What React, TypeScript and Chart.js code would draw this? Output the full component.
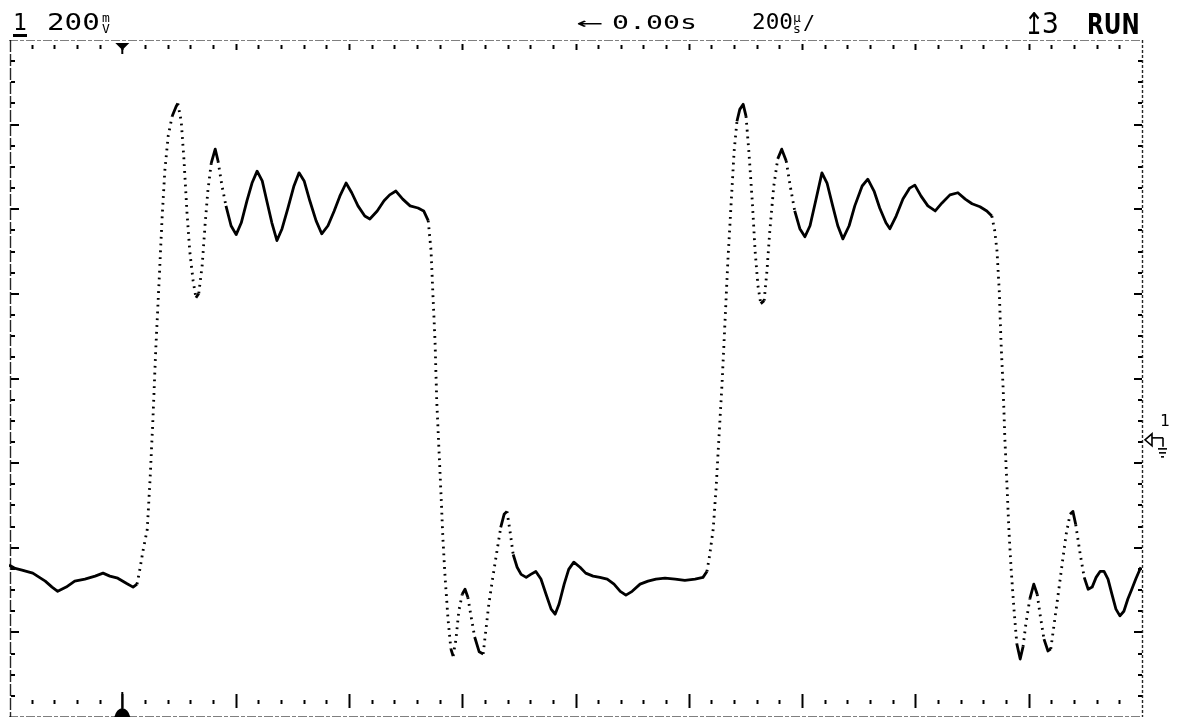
import { useEffect, useRef } from "react";
import { Chart, registerables } from "chart.js";

Chart.register(...registerables);

// ---- Scope settings ----
const X_MIN_US = 0;
const X_MAX_US = 2000; // 10 div x 200 us/div
const Y_MAX_MV = 945; // top of graticule (8 div x 200 mV/div)
const Y_MIN_MV = -655;
const H_MINOR_US = 40;
const H_MAJOR_US = 200;
const V_MINOR_MV = 50;
const V_MAJOR_MV = 200;
const TRIGGER_US = 200;
const GROUND_MV = 0;

// ---- Captured trace (time in microseconds, voltage in millivolts) ----
const timeUs = [
  0, 11, 23, 42, 64, 76, 86, 101, 116, 134,
  152, 166, 178, 192, 207, 219, 226, 231, 237, 244,
  249, 254, 259, 265, 270, 275, 281, 288, 295, 298,
  304, 309, 314, 319, 325, 330, 335, 341, 346, 351,
  357, 364, 369, 376, 383, 392, 401, 410, 420, 429,
  438, 447, 455, 464, 473, 482, 492, 503, 512, 521,
  531, 542, 552, 563, 574, 584, 595, 605, 616, 628,
  637, 650, 662, 672, 683, 695, 708, 722, 732, 740,
  745, 748, 752, 755, 759, 763, 766, 770, 775, 780,
  784, 789, 794, 800, 805, 810, 815, 822, 830, 837,
  842, 847, 854, 861, 868, 874, 879, 884, 890, 897,
  904, 913, 921, 930, 939, 948, 957, 964, 971, 980,
  988, 997, 1008, 1018, 1031, 1043, 1056, 1068, 1079, 1089,
  1100, 1114, 1128, 1142, 1158, 1176, 1193, 1211, 1225, 1232,
  1237, 1243, 1248, 1253, 1259, 1264, 1269, 1275, 1280, 1285,
  1290, 1296, 1301, 1306, 1312, 1317, 1322, 1327, 1333, 1338,
  1343, 1350, 1357, 1364, 1372, 1379, 1387, 1396, 1405, 1414,
  1424, 1435, 1444, 1454, 1463, 1472, 1483, 1493, 1506, 1516,
  1527, 1537, 1548, 1555, 1566, 1578, 1590, 1599, 1610, 1622,
  1635, 1647, 1661, 1675, 1688, 1700, 1714, 1726, 1735, 1740,
  1744, 1748, 1751, 1755, 1758, 1762, 1765, 1769, 1774, 1779,
  1785, 1790, 1795, 1802, 1809, 1815, 1820, 1827, 1834, 1839,
  1845, 1852, 1859, 1866, 1873, 1878, 1883, 1891, 1898, 1905,
  1912, 1919, 1926, 1933, 1940, 1947, 1954, 1961, 1968, 1975,
  1982, 1989, 1998,
];

const voltsMv = [
  -296, -304, -308, -315, -334, -348, -358, -348, -334, -329,
  -322, -315, -322, -327, -339, -348, -341, -306, -259, -212,
  -94, 47, 212, 376, 518, 635, 718, 765, 788, 795,
  753, 659, 541, 447, 376, 336, 346, 412, 506, 588,
  654, 687, 659, 600, 553, 506, 485, 513, 565, 607,
  635, 612, 565, 513, 471, 499, 546, 600, 631, 612,
  565, 518, 487, 506, 541, 576, 607, 584, 553, 529,
  522, 541, 565, 579, 588, 569, 553, 548, 541, 518,
  447, 353, 235, 94, -24, -141, -235, -329, -424, -494,
  -511, -471, -405, -365, -353, -372, -412, -466, -501, -506,
  -447, -388, -325, -266, -207, -176, -169, -212, -271, -301,
  -318, -325, -318, -311, -329, -365, -400, -412, -388, -341,
  -306, -289, -301, -315, -322, -325, -329, -341, -358, -367,
  -358, -341, -334, -329, -327, -329, -332, -329, -325, -311,
  -271, -212, -118, 0, 141, 282, 424, 565, 682, 753,
  781, 793, 765, 682, 565, 447, 365, 322, 329, 400,
  494, 600, 664, 687, 659, 600, 541, 499, 480, 506,
  565, 631, 607, 553, 506, 475, 506, 553, 600, 616,
  588, 548, 513, 499, 529, 569, 595, 602, 576, 553,
  541, 560, 579, 584, 569, 558, 551, 541, 529, 494,
  447, 353, 235, 118, 0, -118, -212, -306, -400, -482,
  -518, -489, -435, -376, -341, -365, -412, -471, -499, -494,
  -435, -365, -294, -224, -176, -169, -200, -271, -325, -353,
  -348, -325, -311, -311, -329, -365, -400, -416, -405, -376,
  -353, -329, -301,
];

// ---- Header readouts ----
const CHANNEL_LABEL = "1";
const VOLTS_DIV = "200";
const VOLTS_UNIT = ["m", "V"];
const DELAY_ARROW = "←";
const DELAY_TEXT = "0.00s";
const TIME_DIV = "200";
const TIME_UNIT = ["µ", "s"];
const TRIG_SLOPE = "↥";
const TRIG_SOURCE = "3";
const RUN_STATE = "RUN";
const GROUND_LABEL = "1";

const scopePlugin = {
  id: "scopeGraticule",
  beforeDatasetsDraw(chart: any) {
    const { ctx, chartArea: a, scales } = chart;
    const xs = scales.x;
    const ys = scales.y;
    const seg = (x1: number, y1: number, x2: number, y2: number) => {
      ctx.beginPath();
      ctx.moveTo(x1, y1);
      ctx.lineTo(x2, y2);
      ctx.stroke();
    };
    ctx.save();
    // frame
    ctx.lineWidth = 1;
    ctx.strokeStyle = "rgba(0,0,0,0.5)";
    ctx.setLineDash([9, 2, 4, 2]);
    seg(a.left, a.top + 0.5, a.right, a.top + 0.5);
    seg(a.left, a.bottom - 0.5, a.right, a.bottom - 0.5);
    ctx.strokeStyle = "rgba(0,0,0,0.85)";
    ctx.lineWidth = 1.4;
    ctx.setLineDash([12, 2]);
    seg(a.left + 1.5, a.top, a.left + 1.5, a.bottom);
    ctx.setLineDash([3, 2]);
    seg(a.right + 0.5, a.top, a.right + 0.5, a.bottom);
    ctx.setLineDash([]);

    // vertical-axis ticks (left and right edges)
    ctx.strokeStyle = "#000";
    ctx.lineWidth = 2;
    for (let v = Y_MAX_MV - V_MINOR_MV; v > Y_MIN_MV + 1; v -= V_MINOR_MV) {
      const py = Math.round(ys.getPixelForValue(v));
      const major = (Y_MAX_MV - v) % V_MAJOR_MV === 0;
      seg(a.left + 2, py, a.left + (major ? 10 : 6), py);
      seg(a.right - (major ? 8 : 4), py, a.right, py);
    }
    // horizontal-axis ticks (top and bottom rows)
    for (let t = X_MIN_US + H_MINOR_US; t < X_MAX_US; t += H_MINOR_US) {
      const px = Math.round(xs.getPixelForValue(t)) + 0.5;
      const major = t % H_MAJOR_US === 0;
      seg(px, a.top + (major ? 4 : 5), px, a.top + (major ? 10 : 9));
      seg(px, a.bottom - (major ? 23 : 17), px, a.bottom - (major ? 9 : 13));
    }

    // trigger position markers
    const tx = xs.getPixelForValue(TRIGGER_US);
    ctx.fillStyle = "#000";
    ctx.beginPath();
    ctx.moveTo(tx - 7, a.top + 3);
    ctx.lineTo(tx + 7, a.top + 3);
    ctx.lineTo(tx, a.top + 10);
    ctx.closePath();
    ctx.fill();
    seg(tx, a.top + 9, tx, a.top + 14);
    seg(tx, a.bottom - 25, tx, a.bottom - 6);
    ctx.beginPath();
    ctx.moveTo(tx - 8, a.bottom);
    ctx.quadraticCurveTo(tx - 6, a.bottom - 8, tx, a.bottom - 9);
    ctx.quadraticCurveTo(tx + 6, a.bottom - 8, tx + 8, a.bottom);
    ctx.closePath();
    ctx.fill();

    // ground reference marker on the right
    const gy = ys.getPixelForValue(GROUND_MV);
    const rx = a.right;
    ctx.lineWidth = 1.6;
    ctx.beginPath();
    ctx.moveTo(rx + 3, gy);
    ctx.lineTo(rx + 10, gy - 6);
    ctx.lineTo(rx + 10, gy + 6);
    ctx.closePath();
    ctx.stroke();
    seg(rx + 10, gy - 2, rx + 21, gy - 2);
    seg(rx + 21, gy - 2, rx + 21, gy + 7);
    seg(rx + 16, gy + 9, rx + 25, gy + 9);
    seg(rx + 17, gy + 13, rx + 24, gy + 13);
    seg(rx + 19, gy + 17, rx + 22, gy + 17);
    ctx.restore();
  },
};

const steep = (c: any) =>
  Math.abs(c.p1.y - c.p0.y) > 4.8 * Math.abs(c.p1.x - c.p0.x);

function Label(props: any) {
  const { left, top, size, sx = 1, bold = false, family, children } = props;
  return (
    <span
      style={{
        position: "absolute",
        left,
        top,
        fontSize: size,
        lineHeight: `${size}px`,
        transform: `scaleX(${sx})`,
        transformOrigin: "left top",
        fontWeight: bold ? 700 : 400,
        fontFamily: family || "'DejaVu Sans Mono', monospace",
        whiteSpace: "nowrap",
        color: "#000",
      }}
    >
      {children}
    </span>
  );
}

function Stack(props: any) {
  const { left, top, parts } = props;
  return (
    <span
      style={{
        position: "absolute",
        left,
        top,
        display: "flex",
        flexDirection: "column",
        alignItems: "center",
        fontSize: 13,
        lineHeight: "11px",
        fontFamily: "'DejaVu Sans Mono', monospace",
        color: "#000",
      }}
    >
      <span>{parts[0]}</span>
      <span>{parts[1]}</span>
    </span>
  );
}

export default function App() {
  const ref = useRef<HTMLCanvasElement | null>(null);

  useEffect(() => {
    if (!ref.current) return;
    const points = timeUs.map((t, i) => ({ x: t, y: voltsMv[i] }));
    const chart = new Chart(ref.current, {
      type: "line",
      data: {
        datasets: [
          {
            label: "Channel 1",
            data: points,
            borderColor: "#000",
            borderWidth: 2.8,
            pointRadius: 0,
            tension: 0,
            borderJoinStyle: "round",
            borderCapStyle: "butt",
            segment: {
              borderDash: (c: any) => (steep(c) ? [1.8, 5] : undefined),
            },
          } as any,
        ],
      },
      options: {
        responsive: false,
        animation: false,
        events: [],
        layout: { padding: { left: 9, right: 39, top: 40, bottom: 1 } },
        scales: {
          x: { type: "linear", min: X_MIN_US, max: X_MAX_US, display: false },
          y: { type: "linear", min: Y_MIN_MV, max: Y_MAX_MV, display: false },
        },
        plugins: {
          legend: { display: false },
          tooltip: { enabled: false },
        },
      },
      plugins: [scopePlugin],
    });
    return () => chart.destroy();
  }, []);

  return (
    <div
      style={{
        position: "fixed",
        left: 0,
        top: 0,
        width: 1181,
        height: 718,
        overflow: "hidden",
        background: "#fff",
      }}
    >
      <canvas
        ref={ref}
        width={1181}
        height={718}
        style={{ position: "absolute", left: 0, top: 0, width: 1181, height: 718 }}
      />
      <span
        style={{
          position: "absolute",
          left: 13,
          top: 11,
          fontSize: 23,
          lineHeight: "23px",
          fontFamily: "'DejaVu Sans Mono', monospace",
          borderBottom: "3px solid #000",
          color: "#000",
        }}
      >
        {CHANNEL_LABEL}
      </span>
      <Label left={47} top={11} size={23} sx={1.27}>{VOLTS_DIV}</Label>
      <Stack left={102} top={12} parts={VOLTS_UNIT} />
      <Label left={576} top={12} size={20} sx={2.2}>{DELAY_ARROW}</Label>
      <Label left={612} top={12} size={20} sx={1.41}>{DELAY_TEXT}</Label>
      <Label left={752} top={11} size={22} sx={1.03}>{TIME_DIV}</Label>
      <Stack left={793} top={12} parts={TIME_UNIT} />
      <Label left={803} top={12} size={20}>/</Label>
      <Label left={1024} top={9} size={30} sx={0.8} family="'DejaVu Sans', sans-serif">{TRIG_SLOPE}</Label>
      <Label left={1042} top={10} size={28}>{TRIG_SOURCE}</Label>
      <Label left={1087} top={10} size={29} sx={0.75} bold family="'DejaVu Sans', sans-serif">
        {RUN_STATE}
      </Label>
      <Label left={1160} top={413} size={16}>{GROUND_LABEL}</Label>
    </div>
  );
}
